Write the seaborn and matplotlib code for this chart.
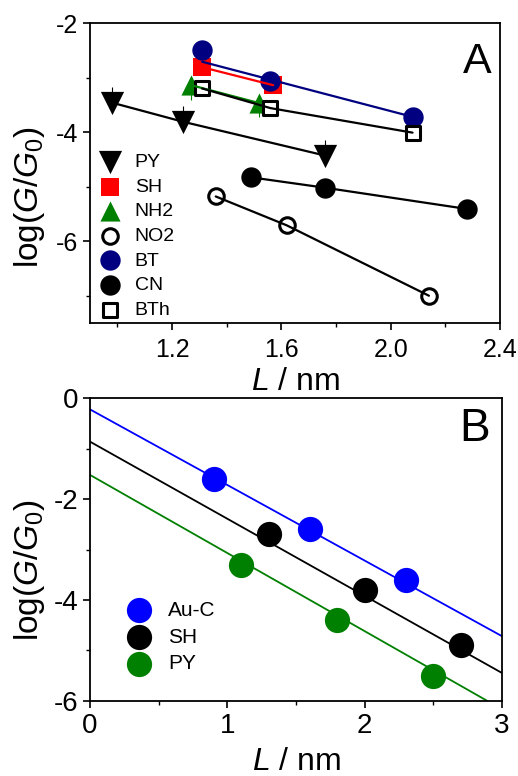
import matplotlib
matplotlib.use('Agg')
import matplotlib.pyplot as plt
from matplotlib.ticker import MultipleLocator, FormatStrFormatter
import seaborn as sns

# Panel A data (L in nm, log(G/G0))
names_a = ['PY', 'SH', 'NH2', 'NO2', 'BT', 'CN', 'BTh']
py_x = [0.98, 1.24, 1.76]
py_y = [-3.46, -3.81, -4.43]
py_err_up = [0.28, 0.28, 0.28]
sh_x = [1.31, 1.57]
sh_y = [-2.81, -3.14]
nh2_x = [1.27, 1.52]
nh2_y = [-3.14, -3.47]
nh2_err_down = [0.27, 0.26]
no2_x = [1.36, 1.62, 2.14]
no2_y = [-5.18, -5.71, -7.00]
bt_x = [1.31, 1.56, 2.08]
bt_y = [-2.50, -3.07, -3.72]
bt_line_x = [1.31, 2.08]
bt_line_y = [-2.71, -3.72]
cn_x = [1.49, 1.76, 2.28]
cn_y = [-4.83, -5.02, -5.41]
bth_x = [1.31, 1.56, 2.08]
bth_y = [-3.20, -3.56, -4.01]

# Panel B data
names_b = ['Au-C', 'SH', 'PY']
auc_x = [0.9, 1.6, 2.3]
auc_y = [-1.6, -2.6, -3.6]
shb_x = [1.3, 2.0, 2.7]
shb_y = [-2.7, -3.8, -4.9]
pyb_x = [1.1, 1.8, 2.5]
pyb_y = [-3.3, -4.4, -5.5]
fit_x = [0, 3]
auc_fit_y = [-0.22, -4.72]
shb_fit_y = [-0.86, -5.45]
pyb_fit_y = [-1.52, -6.17]

sns.set_theme(style='ticks')
plt.rcParams['font.family'] = ['Liberation Sans', 'DejaVu Sans']
plt.rcParams['mathtext.fontset'] = 'custom'
plt.rcParams['mathtext.rm'] = 'Liberation Sans'
plt.rcParams['mathtext.it'] = 'Liberation Sans:italic'
plt.rcParams['axes.unicode_minus'] = False
for key in ['text.color', 'axes.labelcolor', 'xtick.color', 'ytick.color', 'axes.edgecolor']:
    plt.rcParams[key] = 'black'

fig = plt.figure(figsize=(5.18, 7.76), dpi=100)
ax1 = fig.add_axes([90/518, 1-323/776, 410/518, 300/776])
ax2 = fig.add_axes([90/518, 1-700.7/776, 412/518, 302.4/776])

def style_axis(ax, fs):
    for s in ax.spines.values():
        s.set_linewidth(1.3)
    ax.tick_params(which='major', direction='out', length=5, width=1.2, labelsize=fs,
                   top=False, right=False)
    ax.tick_params(which='minor', direction='out', length=3, width=1.0, top=False, right=False)

# ---------- Panel A ----------
lw = 1.6
series_a = [
    ('PY', py_x, py_y, 'v', 'black', 'black', 280, 0),
    ('SH', sh_x, sh_y, 's', 'red', 'red', 160, 0),
    ('NH2', nh2_x, nh2_y, '^', 'green', 'green', 210, 0),
    ('NO2', no2_x, no2_y, 'o', 'white', 'black', 125, 2.2),
    ('BT', bt_x, bt_y, 'o', 'navy', 'navy', 215, 0),
    ('CN', cn_x, cn_y, 'o', 'black', 'black', 215, 0),
    ('BTh', bth_x, bth_y, 's', 'white', 'black', 110, 2.2),
]
ax1.errorbar(py_x, py_y, yerr=[[0, 0, 0], py_err_up], fmt='none', ecolor='black', elinewidth=0.8, zorder=1)
ax1.errorbar(nh2_x, nh2_y, yerr=[nh2_err_down, [0, 0]], fmt='none', ecolor='green', elinewidth=0.8, zorder=1)
for name, x, y, m, fc, ec, s, elw in series_a:
    sns.scatterplot(x=x, y=y, ax=ax1, marker=m, s=s, color=fc, edgecolor=ec,
                    linewidth=elw, label=name, zorder=2)
for name, x, y, m, fc, ec, s, elw in series_a:
    if name == 'BT':
        sns.lineplot(x=bt_line_x, y=bt_line_y, ax=ax1, color='navy', lw=lw, legend=False, zorder=3)
    else:
        line_col = ec if name in ('SH', 'NH2') else 'black'
        sns.lineplot(x=x, y=y, ax=ax1, color=line_col, lw=lw, legend=False, zorder=3)

ax1.set_xlim(0.9, 2.4)
ax1.set_ylim(-7.5, -2)
ax1.xaxis.set_major_locator(MultipleLocator(0.4))
ax1.xaxis.set_minor_locator(MultipleLocator(0.2))
ax1.xaxis.set_major_formatter(FormatStrFormatter('%.1f'))
ax1.yaxis.set_major_locator(MultipleLocator(2))
ax1.yaxis.set_minor_locator(MultipleLocator(1))
style_axis(ax1, 18)
ax1.tick_params(axis='x', pad=6)
ax1.set_xlabel(r'$L$ / nm', fontsize=23, labelpad=3.5)
ax1.set_ylabel(r'log($G$/$G_0$)', fontsize=24)
ax1.yaxis.set_label_coords(-0.105, 0.42)
ax1.text(0.945, 0.87, 'A', transform=ax1.transAxes, fontsize=31, ha='center', va='center')
ax1.legend(loc='upper left', bbox_to_anchor=(0.024, 0.565), frameon=False, fontsize=14,
           handlelength=1.0, handletextpad=0.8, labelspacing=0.36, borderpad=0, borderaxespad=0)

# ---------- Panel B ----------
series_b = [
    ('Au-C', auc_x, auc_y, auc_fit_y, 'blue'),
    ('SH', shb_x, shb_y, shb_fit_y, 'black'),
    ('PY', pyb_x, pyb_y, pyb_fit_y, 'green'),
]
for name, x, y, fy, c in series_b:
    sns.lineplot(x=fit_x, y=fy, ax=ax2, color=c, lw=1.3, legend=False, zorder=2)
    sns.scatterplot(x=x, y=y, ax=ax2, s=330, color=c, edgecolor=c, linewidth=0, label=name, zorder=3)

ax2.set_xlim(0, 3)
ax2.set_ylim(-6, 0)
ax2.xaxis.set_major_locator(MultipleLocator(1))
ax2.xaxis.set_minor_locator(MultipleLocator(0.5))
ax2.yaxis.set_major_locator(MultipleLocator(2))
ax2.yaxis.set_minor_locator(MultipleLocator(1))
style_axis(ax2, 20)
ax2.set_xlabel(r'$L$ / nm', fontsize=23, labelpad=6)
ax2.set_ylabel(r'log($G$/$G_0$)', fontsize=24)
ax2.yaxis.set_label_coords(-0.105, 0.432)
ax2.text(0.934, 0.90, 'B', transform=ax2.transAxes, fontsize=33, ha='center', va='center')
ax2.legend(loc='upper left', bbox_to_anchor=(0.093, 0.331), frameon=False, fontsize=15,
           handlelength=1.0, handletextpad=0.9, labelspacing=0.38, borderpad=0, borderaxespad=0)

fig.savefig('out.png', dpi=100)
